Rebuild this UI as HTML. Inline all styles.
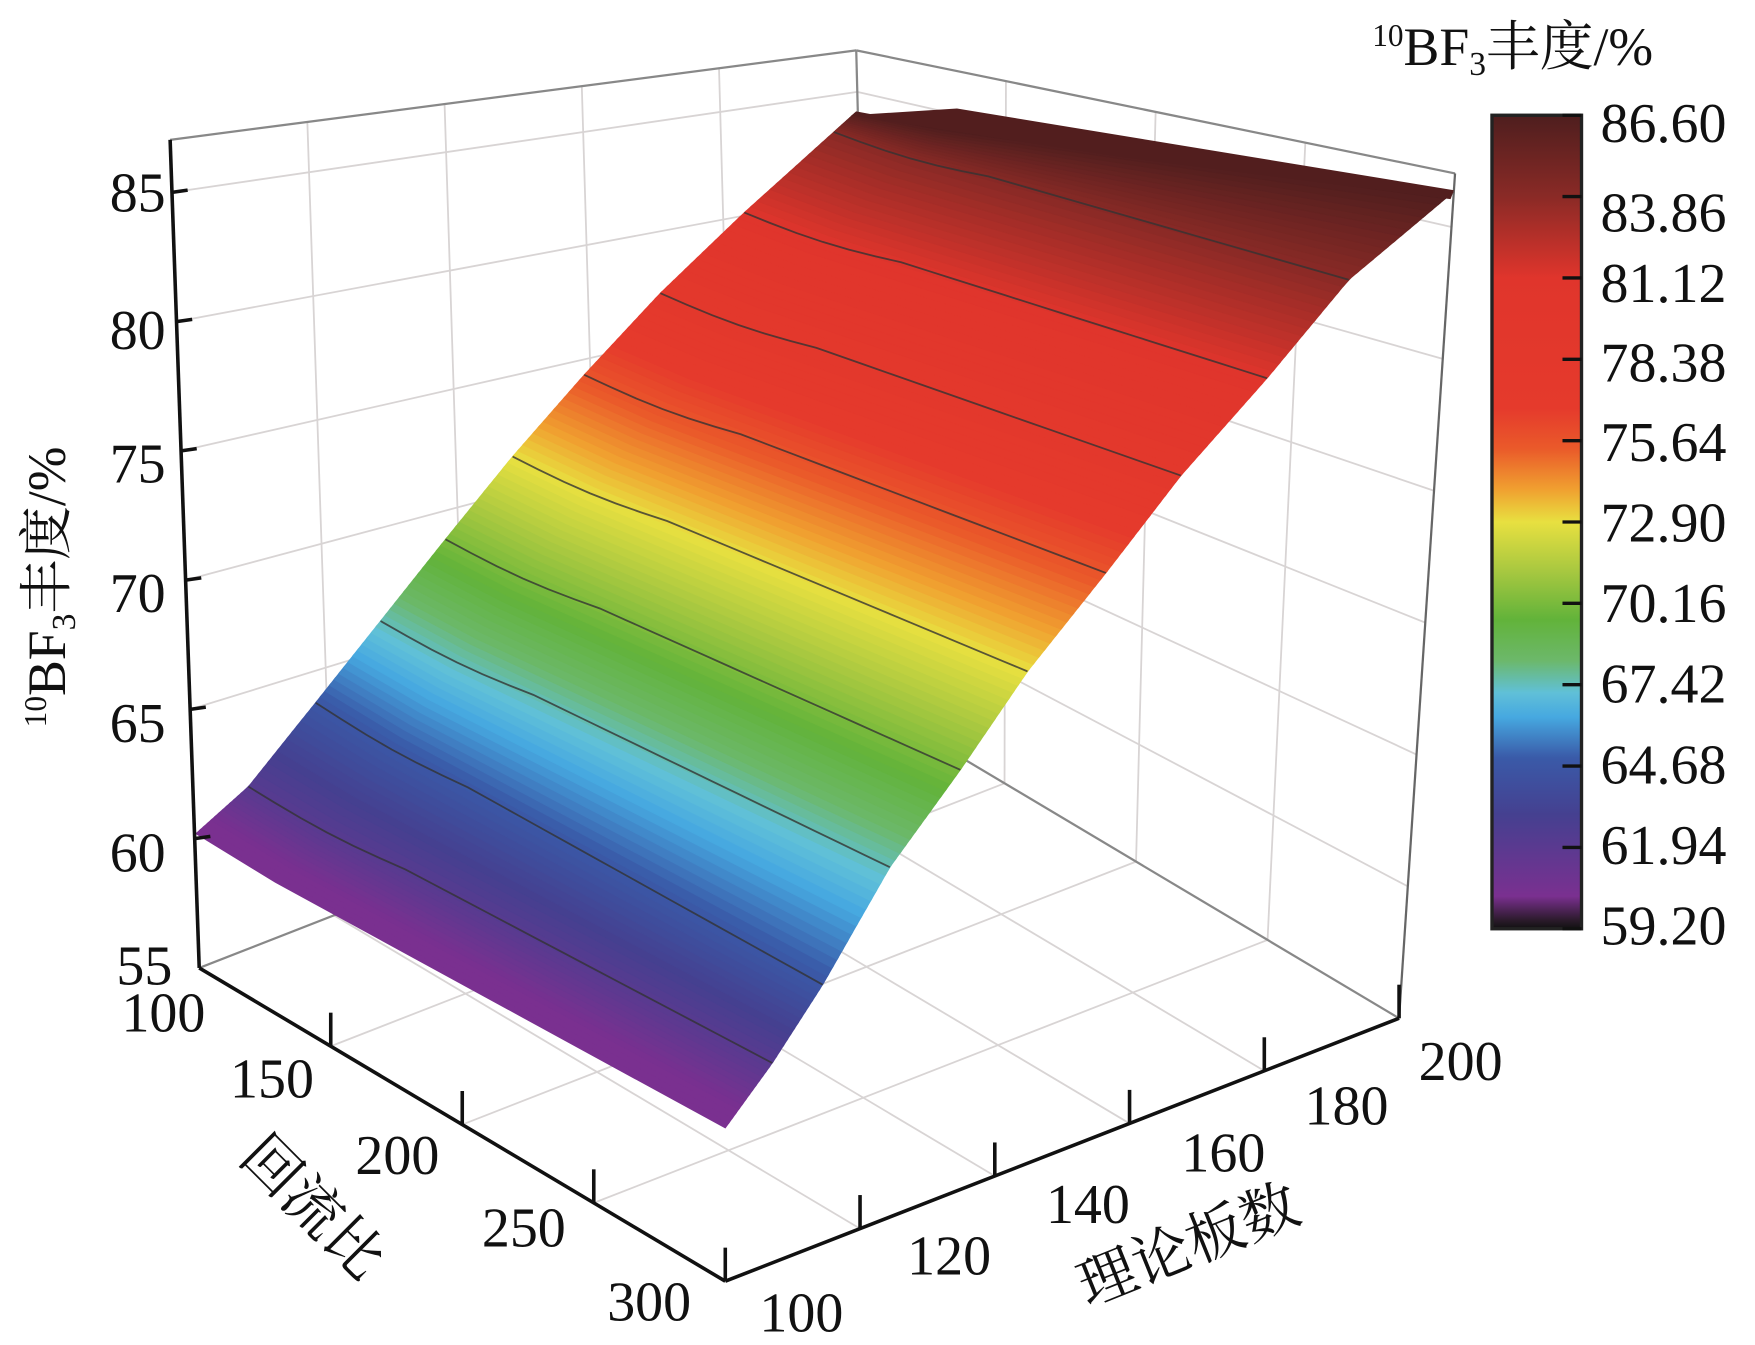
<!DOCTYPE html>
<html><head><meta charset="utf-8"><style>
html,body{margin:0;padding:0;background:#fff;}
svg{display:block;}
text{font-family:"Liberation Serif","Noto Serif CJK SC",serif;fill:#111;}
.cj{font-family:"Liberation Serif","Noto Serif CJK SC",serif;}
</style></head><body>
<svg id="s" width="1755" height="1345" viewBox="0 0 1568 1202" preserveAspectRatio="none" xmlns="http://www.w3.org/2000/svg">
<defs>
<linearGradient id="cb" x1="0" y1="0" x2="0" y2="1">
<stop offset="0" stop-color="#4e1e1e"/><stop offset="0.1" stop-color="#8a2a26"/>
<stop offset="0.2" stop-color="#e0352c"/><stop offset="0.36" stop-color="#e53a2c"/>
<stop offset="0.41" stop-color="#ea5a2a"/><stop offset="0.46" stop-color="#f0a030"/>
<stop offset="0.5" stop-color="#e8e040"/><stop offset="0.56" stop-color="#a8c840"/>
<stop offset="0.62" stop-color="#62b33a"/><stop offset="0.67" stop-color="#6cb86a"/>
<stop offset="0.71" stop-color="#60c0d8"/><stop offset="0.74" stop-color="#46a8e0"/>
<stop offset="0.79" stop-color="#3a5aa8"/><stop offset="0.86" stop-color="#454090"/>
<stop offset="0.96" stop-color="#7a3090"/><stop offset="0.99" stop-color="#2a1a2a"/><stop offset="1" stop-color="#111"/>
</linearGradient>
</defs>
<g id="grid"></g>
<g id="surf"></g>
<g id="axes"></g>
<g font-size="50" text-anchor="end">
<text x="148" y="189">85</text><text x="148" y="312">80</text><text x="148" y="431">75</text>
<text x="148" y="547">70</text><text x="148" y="663">65</text><text x="148" y="779">60</text>
<text x="154" y="880">55</text>
</g>
<g font-size="50" text-anchor="middle">
<text x="146" y="922">100</text><text x="243" y="981">150</text><text x="355" y="1049">200</text>
<text x="468" y="1114">250</text><text x="580" y="1180">300</text>
<text x="716" y="1190">100</text><text x="848" y="1139">120</text><text x="972" y="1093">140</text>
<text x="1093" y="1047">160</text><text x="1203" y="1005">180</text><text x="1305" y="965">200</text>
</g>
<text class="cj" font-size="52" transform="translate(212,1036) rotate(45)">回流比</text>
<text class="cj" font-size="52" transform="translate(972,1168) rotate(-22)">理论板数</text>
<text font-size="48" transform="translate(58,650) rotate(-90)"><tspan font-size="28" dy="-17">10</tspan><tspan dy="17">BF</tspan><tspan font-size="30" dy="9">3</tspan><tspan class="cj" dy="-9">丰度/%</tspan></text>
<text font-size="48" x="1226" y="58"><tspan font-size="28" dy="-17">10</tspan><tspan dy="17">BF</tspan><tspan font-size="30" dy="9">3</tspan><tspan class="cj" dy="-9">丰度/%</tspan></text>
<rect x="1333" y="103" width="80" height="727" fill="url(#cb)" stroke="#222" stroke-width="3"/>
<g id="cbt"></g>
<g font-size="50">
<text x="1430" y="127">86.60</text><text x="1430" y="207">83.86</text><text x="1430" y="270">81.12</text>
<text x="1430" y="341">78.38</text><text x="1430" y="412">75.64</text><text x="1430" y="484">72.90</text>
<text x="1430" y="556">70.16</text><text x="1430" y="628">67.42</text><text x="1430" y="700">64.68</text>
<text x="1430" y="772">61.94</text><text x="1430" y="844">59.20</text>
</g>
</svg>
<script>
const NS="http://www.w3.org/2000/svg";
function el(p,t,a){const e=document.createElementNS(NS,t);for(const k in a)e.setAttribute(k,a[k]);p.appendChild(e);return e;}
const L=(a,b,t)=>[a[0]+(b[0]-a[0])*t,a[1]+(b[1]-a[1])*t];
const F={a:[178,865],b:[780,630],c:[1250,910],d:[648,1145]};
const T={a:[152,125],b:[765,45],c:[1300,155],d:[687,235]};
function P(rc,N,z){const r=(rc-100)/200,n=(N-100)/100,w=(z-55)/32.03;
 const f=L(L(F.a,F.b,n),L(F.d,F.c,n),r), t=L(L(T.a,T.b,n),L(T.d,T.c,n),r);return L(f,t,w);}
const g=document.getElementById('grid');
const gs={stroke:'#d8d4d4','stroke-width':1.6,fill:'none'};
function line(p,a,b,s){el(p,'line',Object.assign({x1:a[0],y1:a[1],x2:b[0],y2:b[1]},s));}
for(let z=60;z<=85;z+=5)line(g,P(100,100,z),P(100,200,z),gs);
for(let N=120;N<=180;N+=20)line(g,P(100,N,55),P(100,N,87.03),gs);
for(let z=60;z<=85;z+=5)line(g,P(100,200,z),P(300,200,z),gs);
for(let rc=150;rc<=250;rc+=50)line(g,P(rc,200,55),P(rc,200,87.03),gs);
for(let N=120;N<=180;N+=20)line(g,P(100,N,55),P(300,N,55),gs);
for(let rc=150;rc<=250;rc+=50)line(g,P(rc,100,55),P(rc,200,55),gs);
const es={stroke:'#888','stroke-width':2};
line(g,T.a,T.b,es);line(g,T.b,T.c,es);line(g,P(100,200,55),T.b,es);
line(g,F.a,F.b,es);line(g,F.b,F.c,es);line(g,T.c,F.c,{stroke:'#666','stroke-width':2});
const Lp=[[175,745],[222,703],[282,628],[340,555],[398,482],[458,408],[522,335],[590,262],[665,190],[745,118],[765,100]];
const Rp=[[648,1008],[690,950],[735,880],[795,775],[858,688],[918,600],[988,512],[1055,425],[1132,338],[1205,250],[1298,172]];
const stops=[[0,'#4e1e1e'],[0.1,'#8a2a26'],[0.2,'#e0352c'],[0.36,'#e53a2c'],[0.41,'#ea5a2a'],[0.46,'#f0a030'],[0.5,'#e8e040'],[0.56,'#a8c840'],[0.62,'#62b33a'],[0.67,'#6cb86a'],[0.71,'#60c0d8'],[0.74,'#46a8e0'],[0.79,'#3a5aa8'],[0.86,'#454090'],[0.97,'#7a3090'],[1,'#7a3090']];
function hx(c){return [1,3,5].map(i=>parseInt(c.substr(i,2),16));}
function col(f){for(let i=0;i<stops.length-1;i++){if(f<=stops[i+1][0]){const t=(f-stops[i][0])/(stops[i+1][0]-stops[i][0]);const a=hx(stops[i][1]),b=hx(stops[i+1][1]);return 'rgb('+a.map((v,k)=>Math.round(v+(b[k]-v)*t)).join(',')+')';}}return stops[stops.length-1][1];}
function edge(arr,u){u=Math.max(0,Math.min(1,u));const s=u*10,i=Math.min(9,Math.floor(s));return L(arr[i],arr[i+1],s-i);}
function sp(u,v){const l=edge(Lp,u),r=edge(Rp,u);const p=L(l,r,v);
 const k=v<0.3?Math.sin(Math.PI*v/0.3)*4:0;return [p[0],p[1]+k];}
const s=document.getElementById('surf');
const M=140;
for(let i=0;i<M;i++){const u0=i/M,u1=Math.min(1,(i+1)/M+0.002);
 const pts=[sp(u0,0),sp(u0,0.15),sp(u0,1),sp(u1,1),sp(u1,0.15),sp(u1,0)].map(p=>p.join(',')).join(' ');
 const c=col(1-(u0+u1)/2);el(s,'polygon',{points:pts,fill:c,stroke:c,'stroke-width':0.8});}
el(s,'polygon',{points:'760,103 855,97 1299,170 1296,178 1000,140',fill:'#521e1e'});
for(let k=1;k<10;k++){const u=k/10;const pts=[];for(let j=0;j<=20;j++)pts.push(sp(u,j/20).join(','));
 el(s,'polyline',{points:pts.join(' '),fill:'none',stroke:'#333','stroke-width':1.6,'stroke-opacity':0.8});}
const a=document.getElementById('axes');const as={stroke:'#111','stroke-width':3.2};
line(a,T.a,F.a,as);line(a,F.a,F.d,as);line(a,F.d,F.c,as);
for(let z=60;z<=85;z+=5){const p=P(100,100,z);line(a,p,[p[0]+14,p[1]-2],as);}
for(let rc=150;rc<=300;rc+=50){const p=P(rc,100,55);line(a,p,[p[0],p[1]-30],as);}
for(let N=120;N<=200;N+=20){const p=P(300,N,55);line(a,p,[p[0],p[1]-30],as);}
const ct=document.getElementById('cbt');
for(let k=0;k<11;k++){const y=103+k*72.7;line(ct,[1396,y],[1413,y],{stroke:'#111','stroke-width':3});}
</script>
</body></html>
